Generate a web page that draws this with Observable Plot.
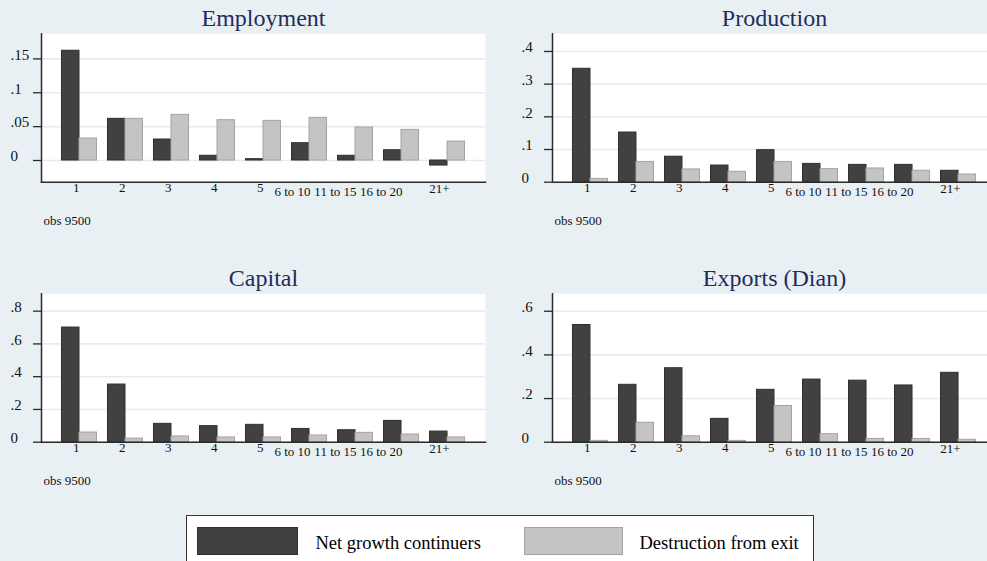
<!DOCTYPE html>
<html>
<head>
<meta charset="utf-8">
<script src="https://cdn.jsdelivr.net/npm/d3@7"></script>
<script src="https://cdn.jsdelivr.net/npm/@observablehq/plot@0.6"></script>
<style>
  html, body { margin: 0; padding: 0; background: #e9f0f3; overflow: hidden; width: 987px; height: 561px; }
  #root { position: relative; width: 987px; height: 561px; font-family: "Liberation Serif", "Times New Roman", serif; color: #000; }
  .panel { position: absolute; }
  .panel svg { display: block; overflow: visible; max-width: none !important; }
  #legend { position: absolute; left: 186px; top: 515px; width: 628px; height: 70px; background: #fff; border: 1.5px solid #333; box-sizing: border-box; }
  .sw { position: absolute; top: 10.5px; height: 28px; box-sizing: border-box; }
  .lt { position: absolute; top: 12.5px; height: 28px; line-height: 28px; font-size: 18.5px; white-space: nowrap; }
</style>
</head>
<body>
<div id="root"></div>
<script>
// ---- data ----
const categories = ["1", "2", "3", "4", "5", "6 to 10", "11 to 15", "16 to 20", "21+"];
const seriesNames = ["Net growth continuers", "Destruction from exit"];

const employmentNet  = [0.162, 0.0615, 0.031, 0.007, 0.002, 0.0256, 0.007, 0.0152, -0.0074];
const employmentExit = [0.0324, 0.0615, 0.0674, 0.0595, 0.0585, 0.063, 0.0487, 0.0452, 0.028];
const productionNet  = [0.347, 0.152, 0.078, 0.051, 0.098, 0.056, 0.053, 0.053, 0.035];
const productionExit = [0.010, 0.062, 0.039, 0.032, 0.062, 0.040, 0.042, 0.035, 0.0235];
const capitalNet     = [0.70, 0.352, 0.112, 0.098, 0.106, 0.081, 0.073, 0.130, 0.065];
const capitalExit    = [0.059, 0.022, 0.035, 0.029, 0.029, 0.041, 0.057, 0.047, 0.029];
const exportsNet     = [0.537, 0.263, 0.339, 0.107, 0.240, 0.287, 0.282, 0.260, 0.318];
const exportsExit    = [0.006, 0.089, 0.027, 0.006, 0.166, 0.037, 0.015, 0.015, 0.011];

const employmentTicks = [0, 0.05, 0.1, 0.15];
const productionTicks = [0, 0.1, 0.2, 0.3, 0.4];
const capitalTicks    = [0, 0.2, 0.4, 0.6, 0.8];
const exportsTicks    = [0, 0.2, 0.4, 0.6];

const employmentDomain = [-0.032, 0.187];
const productionDomain = [0, 0.454];
const capitalDomain    = [0, 0.906];
const exportsDomain    = [0, 0.68];

const obsNote = "obs 9500";

// ---- styles ----
const colors = ["#414141", "#c4c4c4"];
const strokes = ["#2f2f2f", "#a3a3a3"];
const gridColor = "#e5ecf0";
const titleColor = "#1f2d5c";
const serif = "'Liberation Serif', 'Times New Roman', serif";

const fmt = d => d === 0 ? "0" : String(d).replace(/^0/, "").replace(/^-0/, "-");

function panel(title, net, exit, ticks, domain, left, top, marginLeft, width) {
  const rows = categories.flatMap((c, i) => [
    {cat: c, series: seriesNames[0], value: net[i]},
    {cat: c, series: seriesNames[1], value: exit[i]}
  ]);
  const plotW = 444;
  const height = 240;
  const chart = Plot.plot({
    width,
    height,
    marginTop: 33.3,
    marginBottom: 58.3,
    marginLeft,
    marginRight: width - marginLeft - plotW,
    style: {background: "transparent", fontFamily: serif, color: "#000", overflow: "visible", maxWidth: "none"},
    x: {type: "band", domain: categories, paddingInner: 0.239, paddingOuter: 0.445, round: false, axis: null},
    y: {domain, axis: null},
    marks: [
      Plot.frame({fill: "white", stroke: "none"}),
      Plot.gridY(ticks, {stroke: gridColor, strokeOpacity: 1, strokeWidth: 1.6}),
      Plot.barY(rows.filter(d => d.series === seriesNames[0]), {x: "cat", y: "value", fill: colors[0], stroke: strokes[0], strokeWidth: 1, insetRight: 17.5}),
      Plot.barY(rows.filter(d => d.series === seriesNames[1]), {x: "cat", y: "value", fill: colors[1], stroke: strokes[1], strokeWidth: 1, insetLeft: 17.5}),
      Plot.axisY(ticks, {tickSize: 8, tickFormat: () => "", label: null, stroke: "#2a2a2a", strokeWidth: 1.3}),
      Plot.text(ticks, {y: d => d, text: fmt, frameAnchor: "left", lineAnchor: "middle", textAnchor: "start", dx: -31, dy: -4, fontSize: 15, fill: "#111"}),
      Plot.frame({anchor: "left", stroke: "#2a2a2a", strokeWidth: 1.5}),
      Plot.frame({anchor: "bottom", stroke: "#2a2a2a", strokeWidth: 1.5}),
      Plot.text(categories.filter(c => c.length === 1), {x: d => d, frameAnchor: "bottom", lineAnchor: "middle", textAnchor: "end", dy: 5.5, fontSize: 13, fill: "#111"}),
      Plot.text(categories.filter(c => c.length === 3), {x: d => d, frameAnchor: "bottom", lineAnchor: "middle", textAnchor: "end", dy: 7, dx: 2, fontSize: 13, fill: "#111"}),
      Plot.text(categories.filter(c => c.length > 3), {x: d => d, frameAnchor: "bottom", lineAnchor: "middle", textAnchor: "end", dy: 9.5, dx: 1, fontSize: 13, fill: "#111"}),
      Plot.text([title], {frameAnchor: "top", lineAnchor: "middle", dy: -15, fontSize: 24, fill: titleColor}),
      Plot.text([obsNote], {frameAnchor: "bottom-left", lineAnchor: "middle", textAnchor: "start", dx: 2, dy: 38.5, fontSize: 13, fill: "#111"})
    ]
  });
  chart.style.maxWidth = "none";
  chart.setAttribute("width", width);
  chart.setAttribute("height", height);
  const div = document.createElement("div");
  div.className = "panel";
  div.style.left = left + "px";
  div.style.top = top + "px";
  div.style.width = width + "px";
  div.style.height = height + "px";
  div.appendChild(chart);
  document.getElementById("root").appendChild(div);
}

panel("Employment", employmentNet, employmentExit, employmentTicks, employmentDomain, 0, 0, 41, 490);
panel("Production", productionNet, productionExit, productionTicks, productionDomain, 490, 0, 62, 510);
panel("Capital", capitalNet, capitalExit, capitalTicks, capitalDomain, 0, 260, 41, 490);
panel("Exports (Dian)", exportsNet, exportsExit, exportsTicks, exportsDomain, 490, 260, 62, 510);

// ---- legend ----
const legend = document.createElement("div");
legend.id = "legend";
const swLeft = [9.5, 336.5], swWidth = [101, 99], txtLeft = [128.5, 452.5];
seriesNames.forEach((name, i) => {
  const sw = document.createElement("div");
  sw.className = "sw";
  sw.style.left = swLeft[i] + "px";
  sw.style.width = swWidth[i] + "px";
  sw.style.background = colors[i];
  sw.style.border = "1px solid " + strokes[i];
  legend.appendChild(sw);
  const t = document.createElement("div");
  t.className = "lt";
  t.style.left = txtLeft[i] + "px";
  t.textContent = name;
  legend.appendChild(t);
});
document.getElementById("root").appendChild(legend);
</script>
</body>
</html>
